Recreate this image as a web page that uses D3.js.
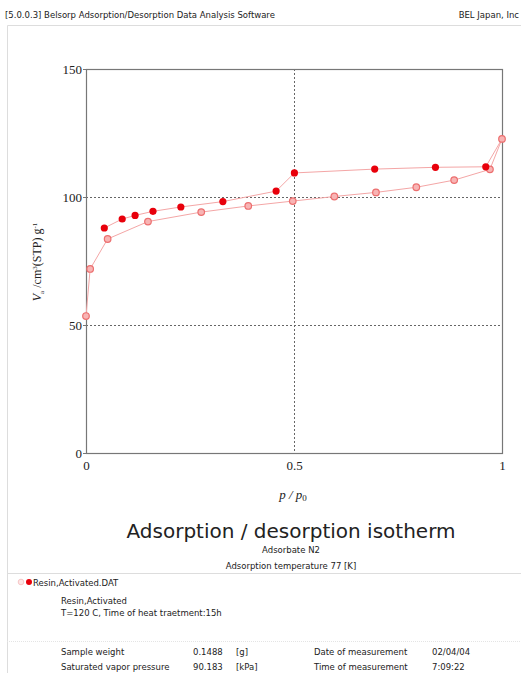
<!DOCTYPE html>
<html>
<head>
<meta charset="utf-8">
<script src="https://d3js.org/d3.v7.min.js"></script>
<style>
  body { margin: 0; background: #fff; }
  svg text { fill: #222; }
  .sans { font-family: "DejaVu Sans", Verdana, sans-serif; }
  .serif { font-family: "Liberation Serif", "Times New Roman", serif; }
</style>
</head>
<body>
<script>
// adsorption branch (p/p0, Va)
var adsP = [0.0, 0.01, 0.052, 0.149, 0.277, 0.39, 0.497, 0.597, 0.697, 0.794, 0.885, 0.971, 1.0];
var adsV = [53.5, 71.9, 83.6, 90.4, 94.1, 96.5, 98.4, 100.2, 101.8, 103.8, 106.6, 110.8, 122.7];
// desorption branch, high to low pressure
var desP = [0.961, 0.840, 0.694, 0.501, 0.457, 0.329, 0.228, 0.161, 0.118, 0.087, 0.044];
var desV = [111.8, 111.6, 110.9, 109.4, 102.3, 98.2, 96.1, 94.4, 92.8, 91.4, 87.9];

var xTicks = [0, 0.5, 1];
var xTickLabels = ["0", "0.5", "1"];
var yTicks = [0, 50, 100, 150];

var W = 521, H = 673;
var svg = d3.select("body").append("svg").attr("width", W).attr("height", H);

// header
svg.append("text").attr("class", "sans").attr("x", 5).attr("y", 18)
  .style("font-size", "8.5px").text("[5.0.0.3] Belsorp Adsorption/Desorption Data Analysis Software");
svg.append("text").attr("class", "sans").attr("x", 519).attr("y", 18).attr("text-anchor", "end")
  .style("font-size", "8.5px").text("BEL Japan, Inc");

// page frame
svg.append("path").attr("d", "M7.5," + H + "V25.5H" + W)
  .attr("fill", "none").attr("stroke", "#ddd");
svg.append("line").attr("x1", 7).attr("x2", W).attr("y1", 573.5).attr("y2", 573.5)
  .attr("stroke", "#ddd");
svg.append("line").attr("x1", 7).attr("x2", W).attr("y1", 641.5).attr("y2", 641.5)
  .attr("stroke", "#e4e4e4").attr("stroke-dasharray", "1,1");

var x = d3.scaleLinear().domain([0, 1]).range([86, 502]);
var y = d3.scaleLinear().domain([0, 150]).range([453, 69]);

// grid (dashed) at 50, 100 and 0.5
var g = svg.append("g");
[50, 100].forEach(function (v) {
  g.append("line").attr("x1", x(0)).attr("x2", x(1)).attr("y1", y(v) + 0.5).attr("y2", y(v) + 0.5)
    .attr("stroke", "#666").attr("stroke-dasharray", "2,2");
});
g.append("line").attr("x1", x(0.5) + 0.5).attr("x2", x(0.5) + 0.5).attr("y1", y(150)).attr("y2", y(0))
  .attr("stroke", "#666").attr("stroke-dasharray", "2,2");

// frame of the plot
g.append("rect").attr("x", x(0) + 0.5).attr("y", y(150) + 0.5)
  .attr("width", x(1) - x(0)).attr("height", y(0) - y(150))
  .attr("fill", "none").attr("stroke", "#777").attr("stroke-width", 1.2);

// axes
var yAxis = d3.axisLeft(y).tickValues(yTicks).tickSize(3).tickPadding(1);
var ya = svg.append("g").attr("transform", "translate(" + x(0) + ",0)").call(yAxis);
var xAxis = d3.axisBottom(x).tickValues(xTicks).tickSize(0).tickPadding(8)
  .tickFormat(function (d, i) { return xTickLabels[i]; });
var xa = svg.append("g").attr("transform", "translate(0," + y(0) + ")").call(xAxis);
[ya, xa].forEach(function (a) {
  a.select(".domain").remove();
  a.selectAll("line").attr("stroke", "#777");
  a.selectAll("text").attr("class", "serif").style("font-size", "13px").attr("fill", "#333");
});

// axis titles
var yl = svg.append("text").attr("class", "serif")
  .attr("transform", "translate(41,262) rotate(-90)").attr("text-anchor", "middle")
  .style("font-size", "12px");
yl.append("tspan").style("font-style", "italic").text("V");
yl.append("tspan").attr("dy", 3).style("font-size", "7px").text("a");
yl.append("tspan").attr("dy", -3).text(" /cm");
yl.append("tspan").attr("dy", -4).style("font-size", "7px").text("3");
yl.append("tspan").attr("dy", 4).text("(STP) g");
yl.append("tspan").attr("dy", -4).style("font-size", "7px").text("-1");

var xl = svg.append("text").attr("class", "serif").attr("x", 293).attr("y", 499)
  .attr("text-anchor", "middle").style("font-size", "13px").style("font-style", "italic");
xl.append("tspan").text("p / p");
xl.append("tspan").attr("dy", 2).style("font-size", "9px").style("font-style", "normal").text("0");

// data lines
var line = d3.line().x(function (d) { return x(d[0]); }).y(function (d) { return y(d[1]); });
var ads = adsP.map(function (p, i) { return [p, adsV[i]]; });
var des = desP.map(function (p, i) { return [p, desV[i]]; });
var peak = ads[ads.length - 1];

svg.append("path").datum(ads).attr("d", line)
  .attr("fill", "none").attr("stroke", "#f4a6a6").attr("stroke-width", 1);
svg.append("path").datum([peak].concat(des)).attr("d", line)
  .attr("fill", "none").attr("stroke", "#f4a6a6").attr("stroke-width", 1);

svg.append("g").selectAll("circle").data(ads).join("circle")
  .attr("cx", function (d) { return x(d[0]); }).attr("cy", function (d) { return y(d[1]); })
  .attr("r", 3.3).attr("fill", "#f8b4b4").attr("stroke", "#ec6f6f").attr("stroke-width", 1.2);
svg.append("g").selectAll("circle").data(des).join("circle")
  .attr("cx", function (d) { return x(d[0]); }).attr("cy", function (d) { return y(d[1]); })
  .attr("r", 3.6).attr("fill", "#e8000b");

// titles
svg.append("text").attr("class", "sans").attr("x", 291).attr("y", 538).attr("text-anchor", "middle")
  .style("font-size", "20px").text("Adsorption / desorption isotherm");
svg.append("text").attr("class", "sans").attr("x", 291).attr("y", 553).attr("text-anchor", "middle")
  .style("font-size", "8.5px").text("Adsorbate N2");
svg.append("text").attr("class", "sans").attr("x", 291).attr("y", 569).attr("text-anchor", "middle")
  .style("font-size", "8.5px").text("Adsorption temperature 77 [K]");

// legend
svg.append("circle").attr("cx", 21).attr("cy", 582).attr("r", 2.8)
  .attr("fill", "#fde6e6").attr("stroke", "#f7c6c6");
svg.append("circle").attr("cx", 29).attr("cy", 582).attr("r", 3).attr("fill", "#e8000b");
svg.append("text").attr("class", "sans").attr("x", 33).attr("y", 585.5)
  .style("font-size", "8.5px").text("Resin,Activated.DAT");
svg.append("text").attr("class", "sans").attr("x", 61).attr("y", 604)
  .style("font-size", "8.5px").text("Resin,Activated");
svg.append("text").attr("class", "sans").attr("x", 61).attr("y", 616)
  .style("font-size", "8.5px").text("T=120 C, Time of heat traetment:15h");

// sample info
var infoRows = [
  ["Sample weight", "0.1488", "[g]", "Date of measurement", "02/04/04"],
  ["Saturated vapor pressure", "90.183", "[kPa]", "Time of measurement", "7:09:22"]
];
var infoX = [61, 193, 236, 314, 432];
infoRows.forEach(function (row, r) {
  row.forEach(function (t, c) {
    svg.append("text").attr("class", "sans").attr("x", infoX[c]).attr("y", 655 + r * 15)
      .style("font-size", "8.5px").text(t);
  });
});
</script>
</body>
</html>
